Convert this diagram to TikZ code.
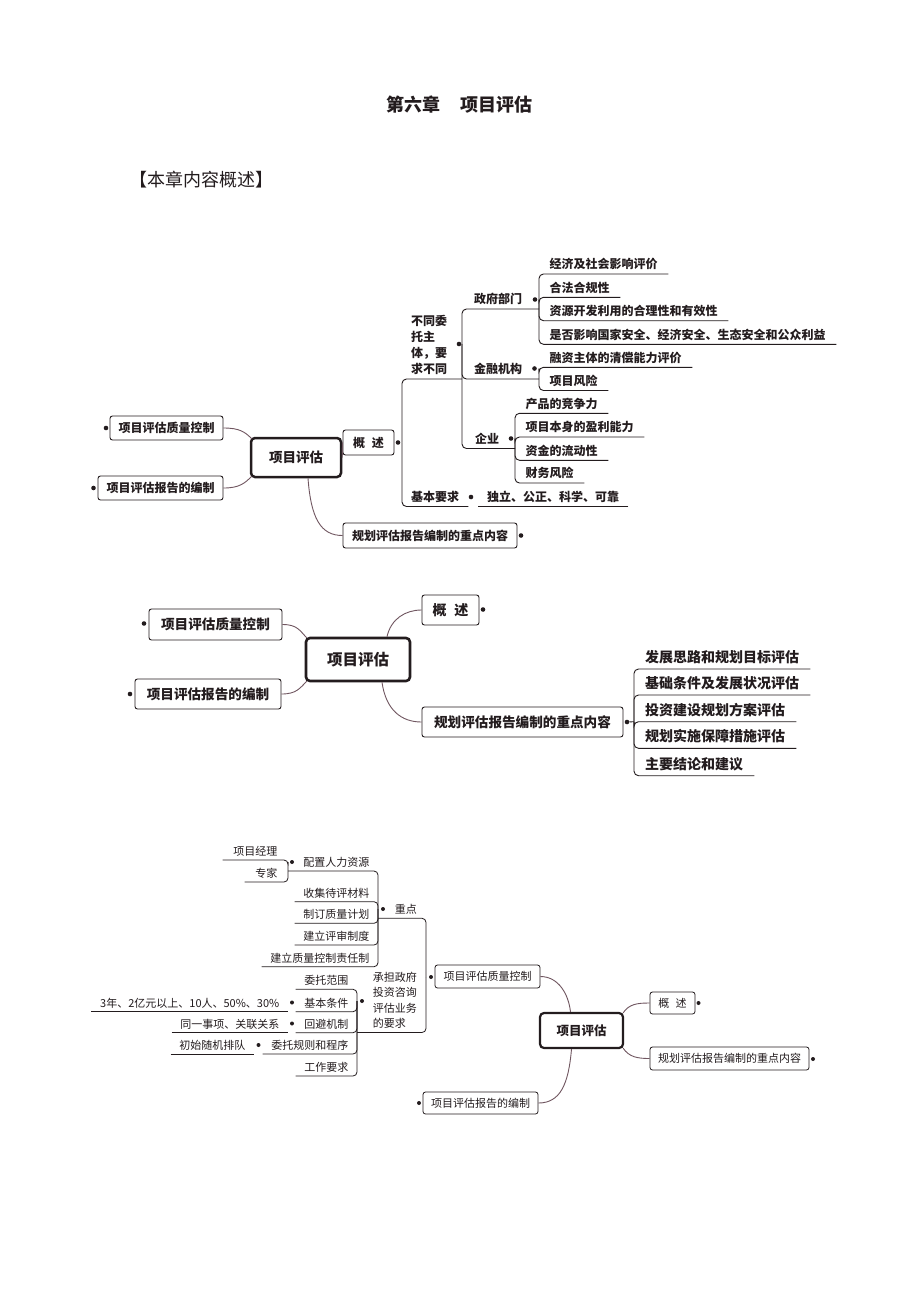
\documentclass[tikz,border=0pt]{standalone}
\usepackage{fontspec}
\setmainfont{Noto Sans CJK SC}
\usetikzlibrary{calc}
\definecolor{ink}{RGB}{35,28,30}
\definecolor{cl}{RGB}{112,86,96}
\tikzset{
  bx/.style={draw=ink, line width=0.9pt, rounded corners=2.5pt, inner sep=0pt, text=ink},
  cb/.style={draw=ink, rounded corners=4pt, inner sep=0pt, text=ink},
  dt/.style={circle, fill=ink, draw=none, inner sep=0pt, minimum size=4.6pt},
  dtt/.style={circle, fill=ink, draw=none, inner sep=0pt, minimum size=4pt},
  cn/.style={draw=cl, line width=0.9pt},
  br/.style={draw=ink, line width=0.9pt, rounded corners=4.5pt},
  brr/.style={draw=ink, line width=0.8pt, rounded corners=4pt},
  rlf/.style={anchor=south west, inner ysep=5pt, text depth=0pt, text=ink},
  llf/.style={anchor=south east, inner ysep=4.5pt, inner xsep=8.5pt, text depth=0pt, text=ink},
  ta/.style={font=\bfseries\fontsize{12}{16}\selectfont},
  tb/.style={font=\bfseries\fontsize{14}{16}\selectfont},
  tc/.style={font=\fontsize{11}{15.5}\selectfont}
}
\begin{document}
\begin{tikzpicture}[x=1pt,y=-1pt]
\fill[white] (0,0) rectangle (920,1302);
\useasboundingbox (0,0) rectangle (920,1302);

% ---------- headings ----------
\node[anchor=west, inner sep=0pt, text=ink, font=\bfseries\fontsize{18}{20}\selectfont] (tt) at (386,105) {第六章\hspace{20pt}项目评估};
\node[anchor=west, inner sep=0pt, text=ink, font=\fontsize{18}{20}\selectfont] (st) at (129,180) {【本章内容概述】};

% ================= diagram 1 =================
\node[cb, line width=2.5pt, minimum width=90pt, minimum height=39pt, font=\bfseries\fontsize{13.5}{15}\selectfont] (c1) at (296,457.5) {项目评估};
\node[bx, ta, minimum width=51pt, minimum height=25pt] (g1) at (368.5,442.5) {概\hspace{0.55em}述};
\node[bx, ta, minimum width=113pt, minimum height=24pt] (q1) at (166.5,428) {项目评估质量控制};
\node[bx, ta, minimum width=125pt, minimum height=24pt] (r1) at (160.5,488) {项目评估报告的编制};
\node[bx, ta, minimum width=174pt, minimum height=25pt] (p1) at (430,535.5) {规划评估报告编制的重点内容};
\node[dt] (q1d) at (106,428) {};
\node[dt] (r1d) at (93.5,488) {};
\node[dt] (p1d) at (521,535.5) {};
\node[dt] (g1d) at (398,442.5) {};

\draw[cn] (q1.east) .. controls +(16,0) and +(-7,-7) .. ($(c1.north west)+(2,2)$);
\draw[cn] (r1.east) .. controls +(16,0) and +(-7,7) .. ($(c1.south west)+(2,-2)$);
\draw[cn] ($(c1.south)+(12,0)$) .. controls +(3,40) and +(-22,0) .. (p1.west);
\draw[cn] (c1.east) -- (g1.west);

\node[rlf, ta, align=left, inner xsep=9pt] (A) at (402,379) {不同委\\托主\\体，要\\求不同};
\node[rlf, ta, inner xsep=9pt] (B) at (402,506.5) {基本要求};
\node[dt] (Ad) at (459,344) {};
\node[dt] (Bd) at (471,497) {};
\node[rlf, ta, inner xsep=12pt] (gov) at (462,309) {政府部门};
\node[rlf, ta, inner xsep=12pt] (fin) at (462,379) {金融机构};
\node[rlf, ta, inner xsep=13pt] (ent) at (462,448.5) {企业};
\node[dt] (govd) at (535,299.5) {};
\node[dt] (find) at (534.5,368.5) {};
\node[dt] (entd) at (511,438.5) {};

\node[rlf, ta, inner xsep=10.5pt] (e1) at (539,274) {经济及社会影响评价};
\node[rlf, ta, inner xsep=10.5pt] (e2) at (539,297.3) {合法合规性};
\node[rlf, ta, inner xsep=10.5pt] (e3) at (539,320.7) {资源开发利用的合理性和有效性};
\node[rlf, ta, inner xsep=10.5pt] (e4) at (539,344.3) {是否影响国家安全、经济安全、生态安全和公众利益};
\node[rlf, ta, inner xsep=10.5pt] (f1) at (539,367.3) {融资主体的清偿能力评价};
\node[rlf, ta, inner xsep=10.5pt] (f2) at (539,390.5) {项目风险};
\node[rlf, ta, inner xsep=10.5pt] (n1) at (515,413.3) {产品的竞争力};
\node[rlf, ta, inner xsep=10.5pt] (n2) at (515,437) {项目本身的盈利能力};
\node[rlf, ta, inner xsep=10.5pt] (n3) at (515,460.3) {资金的流动性};
\node[rlf, ta, inner xsep=10.5pt] (n4) at (515,483) {财务风险};
\node[rlf, ta, inner xsep=9pt] (b1) at (478,506.5) {独立、公正、科学、可靠};

\draw[br] (A.south west -| gov.south west) -- (A.south west) -- (A.south west |- g1d);
\draw[br] (B.south east) -- (B.south west) -- (B.south west |- g1d);
\draw[br] (gov.south west -| e1.south west) -- (gov.south west) -- (gov.south west |- Ad);
\draw[br] (fin.south west -| f1.south west) -- (fin.south west) -- (fin.south west |- Ad);
\draw[br] (ent.south west -| n1.south west) -- (ent.south west) -- (ent.south west |- Ad);
\foreach \q in {e1,e2,e3,e4} \draw[br] (\q.south east) -- (\q.south west) -- (\q.south west |- govd);
\foreach \q in {f1,f2} \draw[br] (\q.south east) -- (\q.south west) -- (\q.south west |- find);
\foreach \q in {n1,n2,n3,n4} \draw[br] (\q.south east) -- (\q.south west) -- (\q.south west |- entd);
\draw[br] (b1.south east) -- (b1.south west);

% ================= diagram 2 =================
\node[cb, line width=2.6pt, minimum width=104pt, minimum height=43pt, font=\bfseries\fontsize{15.5}{17}\selectfont] (c2) at (358,659.5) {项目评估};
\node[bx, tb, minimum width=57pt, minimum height=30pt] (g2) at (450.5,610) {概\hspace{0.55em}述};
\node[bx, minimum width=133pt, minimum height=31pt, font=\bfseries\fontsize{13.6}{15}\selectfont] (q2) at (215.5,624.5) {项目评估质量控制};
\node[bx, minimum width=146pt, minimum height=30pt, font=\bfseries\fontsize{13.6}{15}\selectfont] (r2) at (208,694) {项目评估报告的编制};
\node[bx, minimum width=201pt, minimum height=30pt, font=\bfseries\fontsize{13.6}{15}\selectfont] (p2) at (522.5,722) {规划评估报告编制的重点内容};
\node[dt] (g2d) at (483,609.5) {};
\node[dt] (q2d) at (144,623.5) {};
\node[dt] (r2d) at (130,694) {};
\node[dt] (p2d) at (627,722) {};

\draw[cn] (q2.east) .. controls +(15,0) and +(-7,-7) .. ($(c2.north west)+(2,1)$);
\draw[cn] (r2.east) .. controls +(15,0) and +(-7,7) .. ($(c2.south west)+(2,-1)$);
\draw[cn] ($(c2.north)+(29,0)$) .. controls +(4,-18) and +(-16,0) .. (g2.west);
\draw[cn] ($(c2.south)+(24,0)$) .. controls +(4,28) and +(-20,0) .. (p2.west);

\node[rlf, tb, inner xsep=11pt, inner ysep=6.5pt] (k1) at (634,669) {发展思路和规划目标评估};
\node[rlf, tb, inner xsep=11pt, inner ysep=6.5pt] (k2) at (634,695) {基础条件及发展状况评估};
\node[rlf, tb, inner xsep=11pt, inner ysep=6.5pt] (k3) at (634,721.7) {投资建设规划方案评估};
\node[rlf, tb, inner xsep=11pt, inner ysep=6.5pt] (k4) at (634,748.3) {规划实施保障措施评估};
\node[rlf, tb, inner xsep=11pt, inner ysep=6.5pt] (k5) at (634,775.7) {主要结论和建议};
\foreach \q in {k1,k2,k3,k4,k5} \draw[br] (\q.south east) -- (\q.south west) -- (\q.south west |- p2d);
\draw[br] (p2d) -- (k3.south west);

% ================= diagram 3 =================
\node[cb, line width=2.2pt, minimum width=83pt, minimum height=35pt, font=\bfseries\fontsize{12.5}{14}\selectfont] (c3) at (581.5,1030.5) {项目评估};
\node[bx, tc, line width=0.8pt, minimum width=45pt, minimum height=22pt] (g3) at (672.5,1003) {概\hspace{0.55em}述};
\node[bx, tc, line width=0.8pt, minimum width=159pt, minimum height=23pt] (p3) at (729.5,1058.5) {规划评估报告编制的重点内容};
\node[bx, tc, line width=0.8pt, minimum width=115pt, minimum height=22pt] (r3) at (480.5,1103) {项目评估报告的编制};
\node[bx, tc, line width=0.8pt, minimum width=105pt, minimum height=23pt] (q3) at (487.5,976.5) {项目评估质量控制};
\node[dtt] (g3d) at (698.5,1003) {};
\node[dtt] (p3d) at (813,1059) {};
\node[dtt] (r3d) at (419,1103) {};
\node[dtt] (q3d) at (431,977) {};

\draw[cn] (q3.east) .. controls +(18,0) and +(-2,-18) .. ($(c3.north)+(-11,0)$);
\draw[cn] ($(c3.south)+(-10,0)$) .. controls +(-3,35) and +(22,0) .. (r3.east);
\draw[cn] ($(c3.north east)+(-1,1)$) .. controls +(6,-9) and +(-12,0) .. (g3.west);
\draw[cn] ($(c3.south east)+(-1,-1)$) .. controls +(6,9) and +(-12,0) .. (p3.west);

\node[llf, tc, inner xsep=9pt] (zh) at (426,918.3) {重点};
\node[llf, tc, inner xsep=9pt, align=left] (cd) at (426,1032.5) {承担政府\\投资咨询\\评估业务\\的要求};
\node[dtt] (zdd) at (383,909) {};
\node[dtt] (cdd) at (362,1001) {};

\node[llf, tc] (pz) at (378,871) {配置人力资源};
\node[llf, tc] (sj) at (378,901.7) {收集待评材料};
\node[llf, tc] (zd) at (378,923.3) {制订质量计划};
\node[llf, tc] (jl) at (378,945) {建立评审制度};
\node[llf, tc] (zr) at (378,966.7) {建立质量控制责任制};
\node[dtt] (pzd) at (292,862) {};
\node[llf, tc, inner xsep=10.5pt] (xm) at (288,860) {项目经理};
\node[llf, tc, inner xsep=10.5pt] (zj) at (288,882) {专家};

\node[llf, tc] (wt) at (357,989.3) {委托范围};
\node[llf, tc] (jb) at (357,1011.7) {基本条件};
\node[llf, tc] (hb) at (357,1032.7) {回避机制};
\node[llf, tc] (wg) at (357,1054) {委托规则和程序};
\node[llf, tc] (gz) at (357,1076) {工作要求};
\node[dtt] (jbd) at (292,1002.5) {};
\node[dtt] (hbd) at (292,1023.5) {};
\node[dtt] (wgd) at (258.5,1045) {};
\node[llf, tc] (s1) at (288,1011.7) {3年、2亿元以上、10人、50\%、30\%};
\node[llf, tc] (s2) at (288,1032.7) {同一事项、关联关系};
\node[llf, tc] (s3) at (254,1054) {初始随机排队};

\draw[brr] (zh.south west -| pz.south east) -- (zh.south east) -- (zh.south east |- q3d);
\draw[brr] (cd.south west -| wt.south east) -- (cd.south east) -- (cd.south east |- q3d);
\draw[brr] (pz.south west -| xm.south east) -- (pz.south east) -- (pz.south east |- zdd);
\foreach \q in {sj,zd,jl,zr} \draw[brr] (\q.south west) -- (\q.south east) -- (\q.south east |- zdd);
\foreach \q in {xm,zj} \draw[brr] (\q.south west) -- (\q.south east) -- (\q.south east |- pzd);
\foreach \q in {wt,jb,hb,wg,gz} \draw[brr] (\q.south west) -- (\q.south east) -- (\q.south east |- cdd);
\foreach \q in {s1,s2,s3} \draw[brr] (\q.south west) -- (\q.south east);
\end{tikzpicture}
\end{document}
